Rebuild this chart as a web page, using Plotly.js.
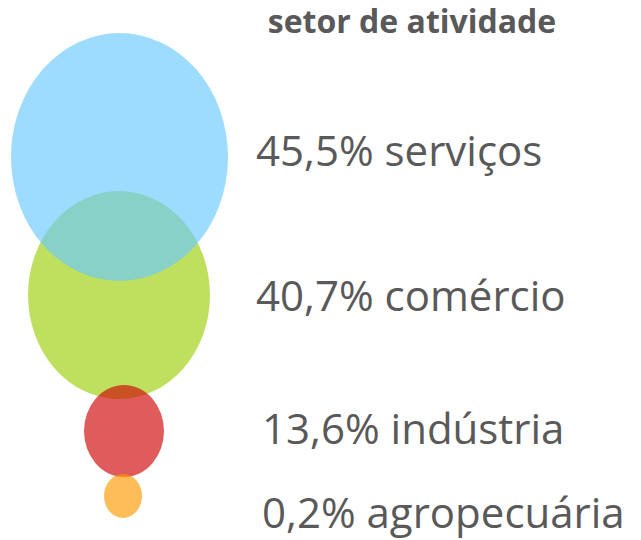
<!DOCTYPE html>
<html>
<head>
<meta charset="utf-8">
<script src="https://cdn.plot.ly/plotly-3.0.1.min.js"></script>
<style>html,body{margin:0;padding:0;background:#fff;}#chart{width:641px;height:540px;}</style>
</head>
<body>
<div id="chart"></div>
<script>
// ---- data ----
const categories = ["serviços", "comércio", "indústria", "agropecuária"];
const shares = [45.5, 40.7, 13.6, 0.2];
const chartTitle = "setor de atividade";

// ---- presentation (layout in pixel-like axis units) ----
const bubbleWidths  = [217, 182, 80, 38];
const bubbleHeights = [248, 208, 92, 44];
const bubbleCentersX = [119.5, 119, 124, 123];
const bubbleCentersY = [157, 295, 431, 496];
const labelX = [256, 256, 262, 262];
const labelY = [155, 300, 433, 517];
const colors = ["rgba(104,201,255,0.65)", "rgba(156,207,8,0.65)", "rgba(208,5,5,0.65)", "rgba(254,154,0,0.65)"];
const drawOrder = [1, 0, 2, 3];

const fmt = v => v.toFixed(1).replace(".", ",") + "%";

const shapes = drawOrder.map(i => ({
  type: "circle", xref: "x", yref: "y",
  x0: bubbleCentersX[i] - bubbleWidths[i] / 2,
  x1: bubbleCentersX[i] + bubbleWidths[i] / 2,
  y0: bubbleCentersY[i] - bubbleHeights[i] / 2,
  y1: bubbleCentersY[i] + bubbleHeights[i] / 2,
  fillcolor: colors[i], line: {width: 0}, layer: "below"
}));

const labels = {
  type: "scatter", mode: "text",
  x: labelX, y: labelY,
  text: categories.map((c, i) => fmt(shares[i]) + " " + c),
  textposition: "middle right",
  textfont: {family: "Open Sans", size: 42, color: "#595959"},
  hoverinfo: "skip", showlegend: false
};

const layout = {
  width: 641, height: 540,
  margin: {l: 0, r: 0, t: 0, b: 0},
  paper_bgcolor: "#fff", plot_bgcolor: "#fff",
  xaxis: {range: [0, 641], visible: false, fixedrange: true},
  yaxis: {range: [540, 0], visible: false, fixedrange: true},
  shapes: shapes,
  showlegend: false,
  title: {
    text: "<b>" + chartTitle + "</b>",
    font: {family: "Open Sans", size: 32, color: "#595959"},
    x: 412 / 641, xanchor: "center", xref: "paper",
    y: 1 - 22 / 540, yanchor: "middle", yref: "container"
  }
};

Plotly.newPlot("chart", [labels], layout, {displayModeBar: false, staticPlot: true});
</script>
</body>
</html>
